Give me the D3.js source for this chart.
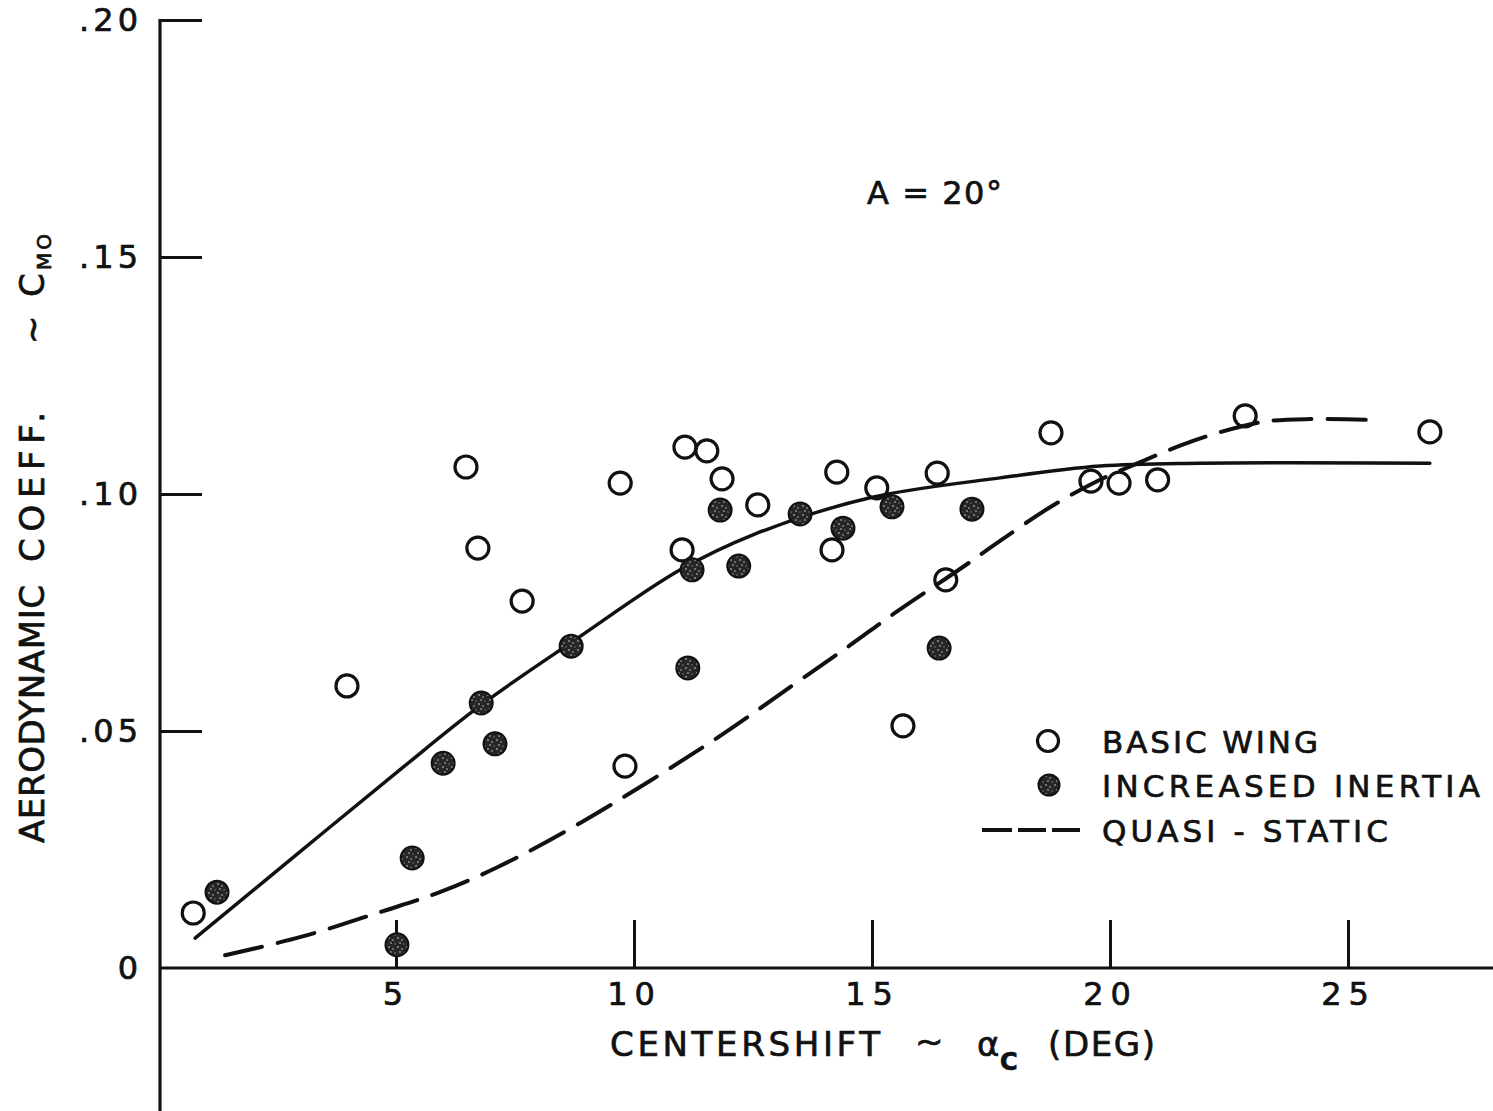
<!DOCTYPE html>
<html>
<head>
<meta charset="utf-8">
<script src="https://cdn.jsdelivr.net/npm/d3@7/dist/d3.min.js"></script>
<style>
  html, body { margin: 0; padding: 0; background: #fff; }
  svg { display: block; }
  text { font-family: "DejaVu Sans", "Liberation Sans", sans-serif; fill: #111; stroke: #111; stroke-width: 0.7; }
</style>
</head>
<body>
<svg id="chart" width="1493" height="1111"></svg>
<script>
// Basic wing test points (centershift in degrees, moment coefficient)
const basicX = [0.74, 3.97, 6.47, 6.72, 7.65, 9.71, 9.81, 11.07, 11.53, 11.85, 11.01, 12.6,
                14.26, 14.16, 15.1, 16.37, 16.55, 15.65, 18.76, 19.6, 20.19, 21.0, 22.84, 26.72];
const basicY = [0.0116, 0.0595, 0.1057, 0.0886, 0.0774, 0.1023, 0.0426, 0.1099, 0.1091, 0.1032, 0.0882, 0.0977,
                0.1046, 0.0882, 0.1013, 0.1044, 0.0819, 0.0511, 0.1129, 0.1027, 0.1023, 0.1030, 0.1165, 0.1131];

// Increased inertia test points
const inertiaX = [1.24, 5.02, 5.34, 5.99, 7.08, 6.79, 8.68, 11.13, 11.22, 11.81, 12.2, 13.49, 14.39, 15.42, 17.1, 16.41];
const inertiaY = [0.016, 0.0049, 0.0232, 0.0432, 0.0473, 0.0559, 0.0679, 0.0633, 0.084, 0.0966, 0.0848, 0.0958,
                  0.0928, 0.0973, 0.0968, 0.0675];

// Faired curve through the test data
const fitX = [0.78, 2.98, 5.08, 6.79, 8.76, 10.97, 12.5, 14.96, 17.69, 19.79, 21.89, 26.72];
const fitY = [0.0063, 0.0245, 0.0418, 0.0555, 0.0692, 0.084, 0.0914, 0.0992, 0.1034, 0.1059, 0.1065, 0.1065];

// Quasi-static prediction
const quasiX = [1.41, 2.98, 4.73, 5.92, 7.14, 8.87, 11.74, 13.34, 14.54, 15.48, 16.91, 17.69, 18.74,
                19.79, 20.7, 21.5, 22.3, 23.2, 24.2, 25.5];
const quasiY = [0.0027, 0.0065, 0.012, 0.016, 0.0213, 0.0306, 0.0485, 0.0597, 0.0681, 0.0749, 0.0846, 0.0901, 0.0972,
                0.1030, 0.1070, 0.1103, 0.1130, 0.1152, 0.1158, 0.1156];

// Axis ticks
const xTicks = [5, 10, 15, 20, 25];
const xTickLabels = ["5", "10", "15", "20", "25"];
const yTicks = [0, 0.05, 0.10, 0.15, 0.20];
const yTickLabels = ["0", ".05", ".10", ".15", ".20"];

const svg = d3.select("#chart");
const ink = "#111";

// Mottled fill used by the solid symbols
const defs = svg.append("defs");
const pat = defs.append("pattern").attr("id", "mottle").attr("patternUnits", "userSpaceOnUse")
  .attr("width", 9).attr("height", 9);
pat.append("rect").attr("width", 9).attr("height", 9).attr("fill", "#262626");
[[2, 2, 1.1], [6, 4, 0.9], [4, 7, 1.0], [8, 8, 0.7]].forEach(p => {
  pat.append("circle").attr("cx", p[0]).attr("cy", p[1]).attr("r", p[2]).attr("fill", "#8a8a8a");
});

const x = d3.scaleLinear().domain([0, 25]).range([158, 1348]);
const y = d3.scaleLinear().domain([0, 0.20]).range([968, 20]);

// Axis frame: vertical axis runs to the bottom edge, horizontal axis to the right edge
svg.append("line").attr("x1", 160).attr("x2", 160).attr("y1", y(0.20) - 1).attr("y2", 1111)
  .attr("stroke", ink).attr("stroke-width", 3.2);
svg.append("line").attr("x1", 160).attr("x2", 1493).attr("y1", y(0)).attr("y2", y(0))
  .attr("stroke", ink).attr("stroke-width", 3.2);

// Y axis ticks point inward, labels on the left
const yAxis = d3.axisLeft(y).tickValues(yTicks).tickSize(-42).tickPadding(18)
  .tickFormat((d, i) => yTickLabels[i]);
const gy = svg.append("g").attr("transform", "translate(160,0)").call(yAxis);
gy.select(".domain").remove();
gy.selectAll(".tick line").attr("stroke", ink).attr("stroke-width", 3);
gy.selectAll(".tick text").attr("font-size", 32).attr("letter-spacing", 4)
  .attr("font-family", "DejaVu Sans").attr("fill", ink);
gy.selectAll(".tick").filter(d => d === 0).select("line").remove();

// X axis ticks point up, labels below
const xAxis = d3.axisBottom(x).tickValues(xTicks).tickSize(-48).tickPadding(14)
  .tickFormat((d, i) => xTickLabels[i]);
const gx = svg.append("g").attr("transform", `translate(0,${y(0)})`).call(xAxis);
gx.select(".domain").remove();
gx.selectAll(".tick line").attr("stroke", ink).attr("stroke-width", 3);
gx.selectAll(".tick text").attr("font-size", 32).attr("letter-spacing", 7)
  .attr("font-family", "DejaVu Sans").attr("fill", ink);

// Curves
const line = d3.line().x(d => x(d[0])).y(d => y(d[1])).curve(d3.curveCatmullRom.alpha(0.5));
svg.append("path").datum(fitX.map((v, i) => [v, fitY[i]]))
  .attr("d", line).attr("fill", "none").attr("stroke", ink).attr("stroke-width", 3.5)
  .attr("stroke-linecap", "round");
svg.append("path").datum(quasiX.map((v, i) => [v, quasiY[i]]))
  .attr("d", line).attr("fill", "none").attr("stroke", ink).attr("stroke-width", 4)
  .attr("stroke-dasharray", "38 16").attr("stroke-linecap", "round");

// Increased inertia markers
svg.append("g").selectAll("circle").data(inertiaX.map((v, i) => [v, inertiaY[i]])).join("circle")
  .attr("cx", d => x(d[0])).attr("cy", d => y(d[1])).attr("r", 11.5)
  .attr("fill", "url(#mottle)").attr("stroke", ink).attr("stroke-width", 2);

// Basic wing markers
svg.append("g").selectAll("circle").data(basicX.map((v, i) => [v, basicY[i]])).join("circle")
  .attr("cx", d => x(d[0])).attr("cy", d => y(d[1])).attr("r", 11)
  .attr("fill", "none").attr("stroke", ink).attr("stroke-width", 3.2);

// Annotation
svg.append("text").attr("x", 867).attr("y", 204).attr("font-size", 32)
  .attr("textLength", 135).attr("lengthAdjust", "spacing").text("A = 20°");

// Legend
const lg = svg.append("g");
lg.append("circle").attr("cx", 1048).attr("cy", 741).attr("r", 10.5)
  .attr("fill", "none").attr("stroke", ink).attr("stroke-width", 3.2);
lg.append("circle").attr("cx", 1049).attr("cy", 785).attr("r", 10.5)
  .attr("fill", "url(#mottle)").attr("stroke", ink).attr("stroke-width", 2);
lg.append("line").attr("x1", 982).attr("x2", 1080).attr("y1", 830).attr("y2", 830)
  .attr("stroke", ink).attr("stroke-width", 4).attr("stroke-dasharray", "30 6 28 6 30");
const legendRows = [["BASIC WING", 753, 216], ["INCREASED  INERTIA", 797, 378], ["QUASI - STATIC", 842, 286]];
legendRows.forEach(r => {
  lg.append("text").attr("x", 1102).attr("y", r[1]).attr("font-size", 31)
    .attr("textLength", r[2]).attr("lengthAdjust", "spacing").text(r[0]);
});

// X axis title
const xt = svg.append("g");
xt.append("text").attr("x", 610).attr("y", 1056).attr("font-size", 34)
  .attr("textLength", 270).attr("lengthAdjust", "spacing").text("CENTERSHIFT");
xt.append("text").attr("x", 915).attr("y", 1053).attr("font-size", 34).text("~");
xt.append("text").attr("x", 977).attr("y", 1056).attr("font-size", 34).text("α");
xt.append("text").attr("x", 1000).attr("y", 1070).attr("font-size", 24).attr("font-weight", "bold").text("C");
xt.append("text").attr("x", 1048).attr("y", 1056).attr("font-size", 34)
  .attr("textLength", 107).attr("lengthAdjust", "spacing").text("(DEG)");

// Y axis title, rotated to read upward
const yt = svg.append("g").attr("transform", "translate(44,0) rotate(-90)");
yt.append("text").attr("x", -843).attr("y", 0).attr("font-size", 34)
  .attr("textLength", 258).attr("lengthAdjust", "spacing").text("AERODYNAMIC");
yt.append("text").attr("x", -562).attr("y", 0).attr("font-size", 34)
  .attr("textLength", 150).attr("lengthAdjust", "spacing").text("COEFF.");
yt.append("text").attr("x", -344).attr("y", 0).attr("font-size", 34).text("~");
yt.append("text").attr("x", -297).attr("y", 0).attr("font-size", 34).text("C");
yt.append("text").attr("x", -270).attr("y", 7).attr("font-size", 20)
  .attr("letter-spacing", 3).text("MO");
</script>
</body>
</html>
